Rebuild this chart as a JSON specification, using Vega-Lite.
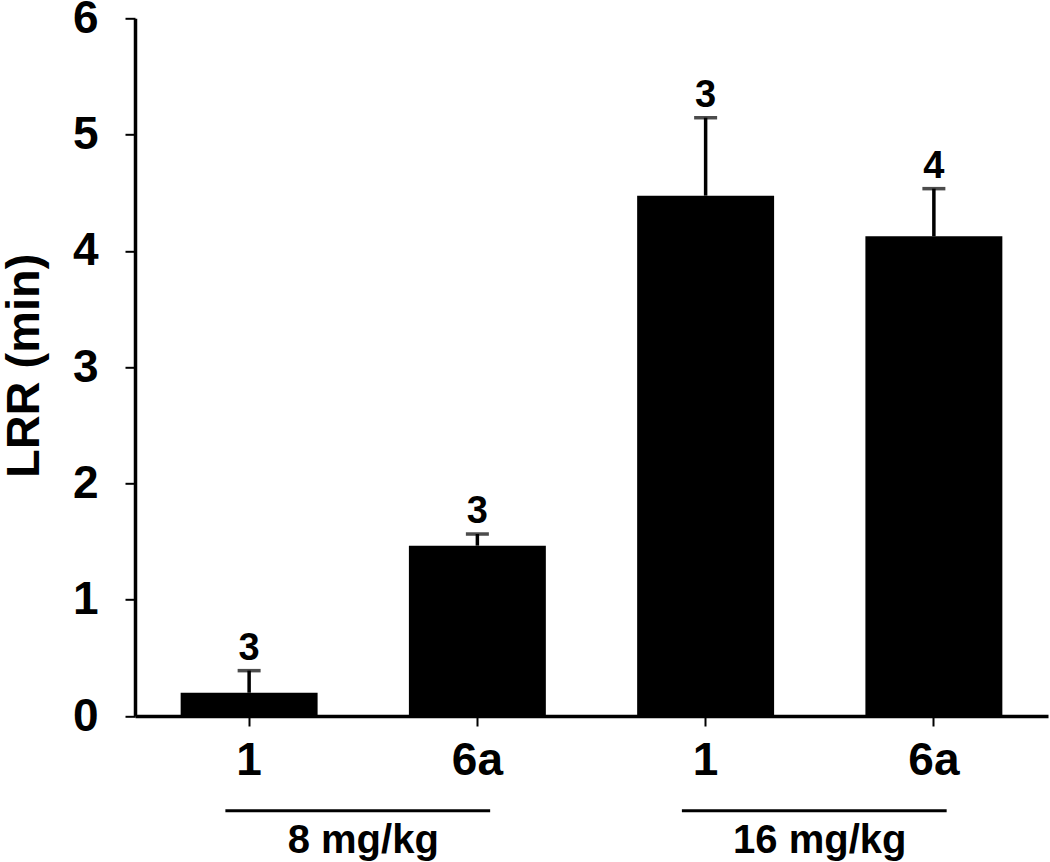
{
  "$schema": "https://vega.github.io/schema/vega-lite/v6.json",
  "autosize": "none",
  "width": 913,
  "height": 697.7,
  "padding": {"left": 135, "top": 18.3, "right": 2, "bottom": 146},
  "background": "white",
  "config": {
    "view": {"stroke": null},
    "font": "Liberation Sans",
    "axis": {"grid": false, "domainColor": "black", "tickColor": "black", "labelColor": "black", "titleColor": "black", "labelFont": "Liberation Sans", "titleFont": "Liberation Sans", "labelFontWeight": "bold", "titleFontWeight": "bold"}
  },
  "layer": [
    {
      "data": {"values": [
        {"bar": "1|8", "compound": "1", "dose": "8 mg/kg", "lrr": 0.20, "upper": 0.39, "n": "3"},
        {"bar": "6a|8", "compound": "6a", "dose": "8 mg/kg", "lrr": 1.465, "upper": 1.565, "n": "3"},
        {"bar": "1|16", "compound": "1", "dose": "16 mg/kg", "lrr": 4.475, "upper": 5.145, "n": "3"},
        {"bar": "6a|16", "compound": "6a", "dose": "16 mg/kg", "lrr": 4.125, "upper": 4.535, "n": "4"}
      ]},
      "encoding": {
        "x": {"field": "bar", "type": "nominal", "sort": null,
          "scale": {"paddingInner": 0.4, "paddingOuter": 0.2},
          "axis": {"title": null, "labelAngle": 0, "labelExpr": "split(datum.label, '|')[0]", "labelFontSize": 46, "labelPadding": 12, "tickSize": 10, "tickWidth": 2, "domainWidth": 3.5, "orient": "bottom"}}
      },
      "layer": [
        {"mark": {"type": "bar", "color": "black"},
         "encoding": {"y": {"field": "lrr", "type": "quantitative", "scale": {"domain": [0, 6], "nice": false},
           "axis": {"title": "LRR (min)", "values": [0, 1, 2, 3, 4, 5, 6], "format": "d", "labelFontSize": 46, "labelPadding": 27, "tickSize": 10, "tickWidth": 2, "domainWidth": 3.5, "titleFontSize": 47, "titleAngle": -90, "titleX": -97, "titleY": 347, "titleAlign": "center", "titleBaseline": "alphabetic"}}}},
        {"mark": {"type": "rule", "color": "black", "strokeWidth": 3.5},
         "encoding": {"y": {"field": "lrr", "type": "quantitative"}, "y2": {"field": "upper"}}},
        {"mark": {"type": "tick", "color": "black", "size": 23, "thickness": 3.5, "orient": "horizontal"},
         "encoding": {"y": {"field": "upper", "type": "quantitative"}}},
        {"mark": {"type": "text", "color": "black", "font": "Liberation Sans", "fontWeight": "bold", "fontSize": 38, "baseline": "alphabetic", "dy": -11},
         "encoding": {"y": {"field": "upper", "type": "quantitative"}, "text": {"field": "n"}}}
      ]
    },
    {
      "data": {"values": [{"dose": "8 mg/kg"}, {"dose": "16 mg/kg"}]},
      "mark": {"type": "rule", "color": "black", "strokeWidth": 3},
      "encoding": {
        "x": {"field": "dose", "type": "nominal", "sort": null, "bandPosition": 0.198,
          "scale": {"paddingInner": 0, "paddingOuter": 0},
          "axis": {"title": null, "orient": "bottom", "domain": false, "ticks": false, "tickSize": 0, "labelAngle": 0, "labelFontSize": 40, "offset": 94, "labelPadding": 10}},
        "x2": {"field": "dose", "bandPosition": 0.778},
        "y": {"datum": -0.815, "type": "quantitative"}
      }
    }
  ],
  "resolve": {"scale": {"x": "independent"}, "axis": {"x": "independent"}}
}
